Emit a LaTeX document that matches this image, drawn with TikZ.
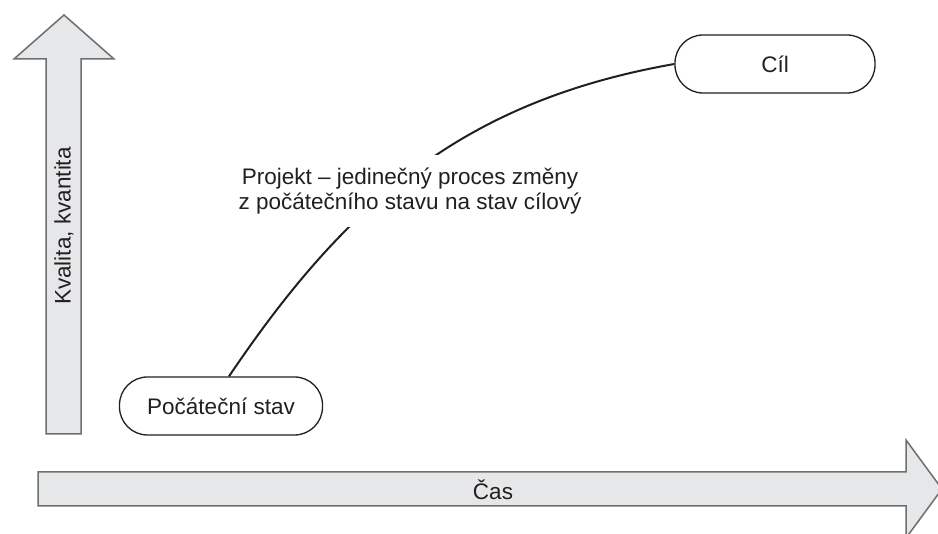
\documentclass[tikz,border=0pt]{standalone}
\usepackage{fontspec}
\setmainfont{Liberation Sans}
\usetikzlibrary{positioning}
\definecolor{axfill}{HTML}{E6E7E8}
\definecolor{axline}{HTML}{6D6E70}
\definecolor{txtdark}{HTML}{231F20}

\begin{document}
\begin{tikzpicture}[
    x=1pt, y=1pt,
    box/.style={rectangle, rounded corners=28pt, draw=txtdark, line width=1.3pt,
                fill=white, text=txtdark, font=\fontsize{22.5}{26}\selectfont},
    lbl/.style={font=\fontsize{22.5}{25}\selectfont, text=txtdark, align=center},
    axis/.style={fill=axfill, draw=axline, line width=1.5pt, line join=miter},
    curve/.style={line width=2pt, txtdark}
  ]

  % ---- Frame ----
  \useasboundingbox (0,0) rectangle (938,534);
  \clip (0,0) rectangle (938,534);

  % ---- Axes ----
  \draw[axis] (46,100) -- (46,475) -- (14,475) -- (64,519) -- (114,475)
    -- (81,475) -- (81,100) -- cycle;
  \draw[axis] (38,28) -- (906,28) -- (906,-4) -- (942,45) -- (906,94)
    -- (906,62) -- (38,62) -- cycle;
  \node[lbl, rotate=90] (qual) at (64,308) {Kvalita, kvantita};
  \node[lbl] (time) at (493,44) {Čas};

  % ---- States ----
  \node[box, minimum width=203pt, minimum height=58pt] (start) at (221,128)
    {Počáteční stav};
  \node[box, minimum width=200pt, minimum height=58pt] (goal) at (775,470)
    {Cíl};

  % ---- Change process ----
  \draw[curve] ([xshift=8pt]start.north) to[out=56, in=190] (goal.west);
  \node[lbl, fill=white, inner xsep=9pt, inner ysep=13pt] (desc) at (410,343)
    {Projekt -- jedinečný proces změny\\z počátečního stavu na stav cílový};

\end{tikzpicture}
\end{document}
